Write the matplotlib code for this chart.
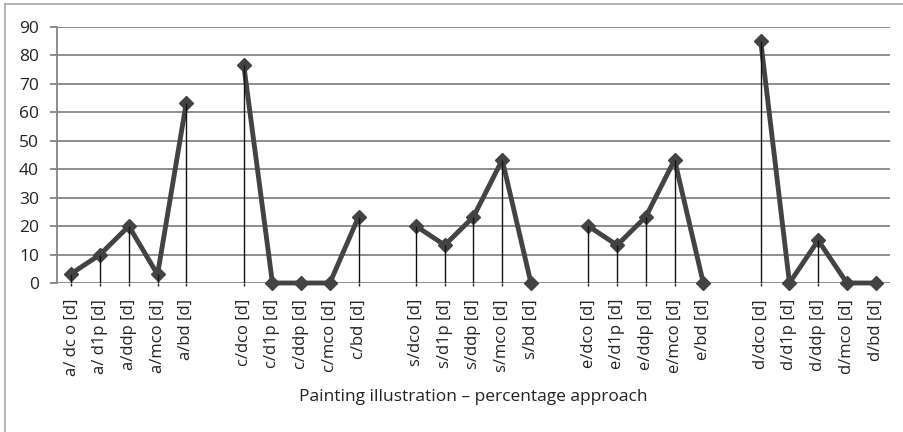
import numpy as np
import matplotlib
matplotlib.use("Agg")
import matplotlib.pyplot as plt
from matplotlib.lines import Line2D

plt.rcParams['font.family'] = ['Open Sans', 'DejaVu Sans']

# Category labels; None marks the empty slot between groups
categories = [
    "a/ dc o [d]", "a/ d1p [d]", "a/ddp [d]", "a/mco [d]", "a/bd [d]", None,
    "c/dco [d]", "c/d1p [d]", "c/ddp [d]", "c/mco [d]", "c/bd [d]", None,
    "s/dco [d]", "s/d1p [d]", "s/ddp [d]", "s/mco [d]", "s/bd [d]", None,
    "e/dco [d]", "e/d1p [d]", "e/ddp [d]", "e/mco [d]", "e/bd [d]", None,
    "d/dco [d]", "d/d1p [d]", "d/ddp [d]", "d/mco [d]", "d/bd [d]",
]
values = [
    3.3, 10, 20, 3, 63.3, None,
    76.7, 0, 0, 0, 23.3, None,
    20, 13.3, 23.3, 43.3, 0, None,
    20, 13.3, 23.3, 43.3, 0, None,
    85, 0, 15, 0, 0,
]
y_ticks = [0, 10, 20, 30, 40, 50, 60, 70, 80, 90]
x_title = "Painting illustration \u2013 percentage approach"

x = np.arange(len(categories))
y = np.array([np.nan if v is None else v for v in values], dtype=float)
has = ~np.isnan(y)

fig = plt.figure(figsize=(9.04, 4.32), dpi=100)
ax = fig.add_axes([57 / 904, 1 - 283 / 432, 833 / 904, 256 / 432])

grid_c = "#858585"
ax.set_xlim(-0.5, len(categories) - 0.5)
ax.set_ylim(0, 90)
ax.set_yticks(y_ticks)
ax.yaxis.grid(True, color=grid_c, lw=1.3)
ax.set_axisbelow(True)
for s in ["top", "right", "bottom"]:
    ax.spines[s].set_visible(False)
ax.spines["left"].set_color(grid_c)
ax.spines["left"].set_linewidth(1.3)
ax.tick_params(axis="y", length=5, width=1.3, color=grid_c, pad=8,
               labelsize=12.5, labelcolor="#222222")

ax.set_xticks(x[has])
ax.set_xticklabels([c for c in categories if c is not None], rotation=90,
                   fontsize=12, color="#222222")
ax.tick_params(axis="x", length=2.5, width=1, color="#222222", pad=9)

# Series line (gaps break it) with diamond markers
ax.plot(x, y, color="#434343", lw=3.5, marker="D", markersize=7,
        markerfacecolor="#434343", markeredgecolor="#434343", zorder=3,
        solid_joinstyle="miter", clip_on=False)
# Drop lines from each point down to zero
ax.vlines(x[has], 0, y[has], color="#111111", lw=1.0, zorder=4)

ax.set_xlabel(x_title, fontsize=12.5, color="#222222", labelpad=9)

# Thin frame along the top and left of the figure
fig.add_artist(Line2D([5 / 904, 5 / 904], [0, 1 - 4 / 432],
                      transform=fig.transFigure, color="#a8a8a8", lw=1.2))
fig.add_artist(Line2D([5 / 904, 1], [1 - 4 / 432, 1 - 4 / 432],
                      transform=fig.transFigure, color="#a8a8a8", lw=1.2))

fig.savefig("out.png", dpi=100)
